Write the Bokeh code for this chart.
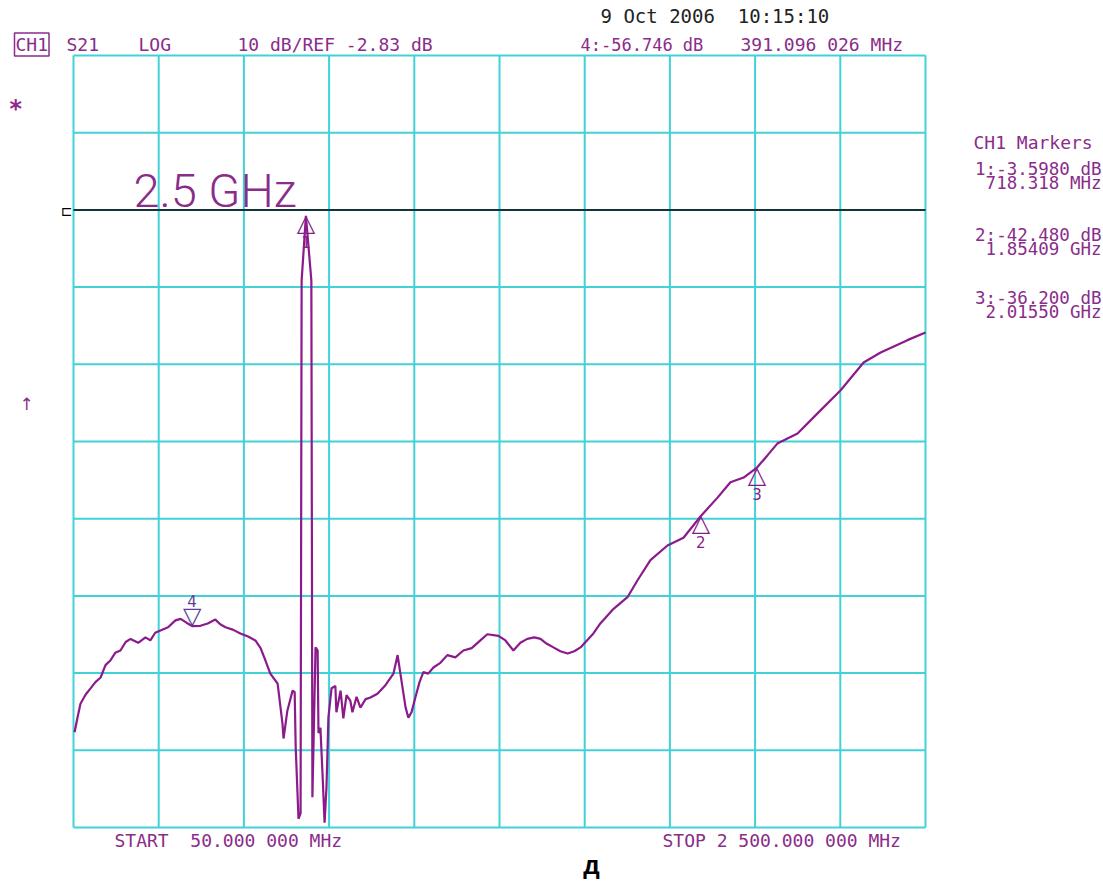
from bokeh.plotting import figure
from bokeh.models import Range1d, Label, ColumnDataSource
from bokeh.core.properties import value
from bokeh.embed import file_html
from bokeh.resources import INLINE

# ---- analyzer settings -------------------------------------------------
start_mhz = 50.0
stop_mhz = 2500.0
ref_db = -2.83
db_per_div = 10.0
ref_div_from_top = 2
n_div = 10
line_label = "2.5 GHz"

top_db = ref_db + ref_div_from_top * db_per_div
bottom_db = top_db - n_div * db_per_div

# ---- measured S21 trace ------------------------------------------------
freq_mhz = [
    53, 61, 70, 85, 99, 113, 128, 142, 156, 170, 185, 200, 214, 236, 257, 271,
    285, 300, 322, 343, 358, 375, 391.096, 415, 436, 458, 472, 487, 508, 530,
    552, 573, 588, 602, 616, 637, 651, 654, 665, 680, 686, 689, 697,
    703, 706, 718.318, 734, 737, 746, 752, 754.5, 760, 766, 772, 777.5, 783,
    792, 803, 806, 818, 826, 835, 846, 852, 864, 875, 890, 904, 924, 947, 970,
    982, 990, 1005, 1013, 1022, 1033, 1045, 1056, 1070, 1085, 1105, 1125, 1148,
    1171, 1195, 1220, 1240, 1272, 1292, 1315, 1335, 1355, 1375, 1393, 1410,
    1430, 1450, 1471, 1490, 1508, 1545, 1565, 1603, 1643, 1672, 1709, 1758,
    1804, 1854.09, 1902, 1939, 1977, 2015.5, 2046, 2074, 2132, 2198, 2256,
    2322, 2371, 2448, 2500,
]
s21_db = [
    -70.5, -68.7, -66.8, -65.6, -64.8, -64.0, -63.4, -61.8, -61.2, -60.2,
    -59.9, -58.8, -58.4, -58.9, -58.2, -58.6, -57.6, -57.3, -56.9, -56.0,
    -55.8, -56.3, -56.746, -56.7, -56.4, -55.9, -56.5, -56.9, -57.2, -57.7,
    -58.1, -58.6, -59.6, -61.2, -62.9, -64.2, -69.4, -71.3, -67.7, -65.1,
    -65.3, -72.5, -81.7,
    -81.0, -12.0, -3.598, -12.0, -78.9, -59.5, -59.9, -70.6, -69.9, -75.8,
    -82.2, -77.6, -68.6,
    -64.8, -64.5, -67.9, -65.1, -68.7, -65.7, -66.4, -67.9, -65.9, -67.3,
    -66.2, -66.0, -65.5, -64.4, -62.9,
    -60.5, -62.9, -67.3, -68.6, -67.9, -66.0, -64.0, -62.7, -62.9, -62.1,
    -61.5, -60.5, -60.8,
    -59.9, -59.6, -58.6, -57.8, -58.0, -58.6, -59.9, -58.9, -58.4, -58.2,
    -58.4, -59.0,
    -59.5, -60.0, -60.3, -60.0, -59.5, -57.7, -56.4, -54.5, -53.0, -50.8,
    -48.2, -46.3,
    -45.3, -42.48, -40.1, -38.1, -37.5, -36.2, -34.6, -33.1, -31.8, -28.8,
    -26.2, -22.6, -21.3, -19.7, -18.7,
]

# ---- markers -----------------------------------------------------------
marker_ids = ["1", "2", "3"]
marker_freq = [718.318, 1854.09, 2015.50]
marker_db = [-3.598, -42.480, -36.200]

active_id = "4"
active_freq = 391.096026
active_db = -56.746

# ---- colours / fonts ---------------------------------------------------
TRACE = "#8b1a8b"
TEXT = "#8a2c8a"
GRID = "#40d2d8"
ACTIVE = "#5d3d9c"
MONO = "DejaVu Sans Mono"
THIN = "Roboto Light, Lato Light, DejaVu Sans"
NB = "\u00a0"  # keeps runs of spaces in SVG text

# screen placement of the graticule inside the page
LEFT, TOP, FW, FH = 73, 55, 852, 772
W, H = 1103, 882


def fx(px):
    return start_mhz + (px - LEFT) / FW * (stop_mhz - start_mhz)


def fy(py):
    return bottom_db + (TOP + FH - py) / FH * (top_db - bottom_db)


# the frame spans the whole page so the annotation texts are not clipped
p = figure(
    width=W, height=H,
    frame_width=W, frame_height=H,
    min_border=0,
    x_range=Range1d(fx(0), fx(W)), y_range=Range1d(fy(H), fy(0)),
    x_axis_type=None, y_axis_type=None,
    output_backend="svg", toolbar_location=None,
    background_fill_color="white", border_fill_color="white",
)
p.outline_line_color = None
p.xgrid.visible = False
p.ygrid.visible = False

# graticule: 10 x 10 divisions
step = (stop_mhz - start_mhz) / n_div
x_ticks = [start_mhz + i * step for i in range(n_div + 1)]
y_ticks = [bottom_db + i * db_per_div for i in range(n_div + 1)]
k = n_div + 1
p.segment(x0=x_ticks, y0=[bottom_db] * k, x1=x_ticks, y1=[top_db] * k,
          line_color=GRID, line_width=2)
p.segment(x0=[start_mhz] * k, y0=y_ticks, x1=[stop_mhz] * k, y1=y_ticks,
          line_color=GRID, line_width=2)

# reference level line
p.line([start_mhz, stop_mhz], [ref_db, ref_db], line_color="black", line_width=1.5)

# trace
p.line(freq_mhz, s21_db, line_color=TRACE, line_width=2.2)

# marker triangles with their numbers underneath
msrc = ColumnDataSource(dict(f=marker_freq, db=marker_db,
                             tri=["△"] * len(marker_ids), n=marker_ids))
p.text(x="f", y="db", text="tri", source=msrc, text_align="center",
       text_baseline="alphabetic", y_offset=7, text_color=TRACE,
       text_font=value("DejaVu Sans"), text_font_size="24px")
p.text(x="f", y="db", text="n", source=msrc, text_align="center",
       text_baseline="top", y_offset=20, text_color=TRACE,
       text_font=value("DejaVu Sans"), text_font_size="15px")

# active marker: inverted triangle above the trace
p.text(x=[active_freq], y=[active_db], text=["▽"], text_align="center",
       text_baseline="alphabetic", y_offset=-10, text_color=ACTIVE,
       text_font=value("DejaVu Sans"), text_font_size="24px")
p.text(x=[active_freq], y=[active_db], text=[active_id], text_align="center",
       text_baseline="alphabetic", y_offset=-25, text_color=ACTIVE,
       text_font=value("DejaVu Sans"), text_font_size="15px")


def put(text, px, py, color=TEXT, size="18px", font=MONO, align="left",
        baseline="middle", style="normal", **kw):
    p.add_layout(Label(x=fx(px), y=fy(py), text=text.replace(" ", NB),
                       text_color=color, text_font=font, text_font_size=size,
                       text_align=align, text_baseline=baseline,
                       text_font_style=style, **kw))


def grouped(v, dec=6):
    whole, frac = f"{v:.{dec}f}".split(".")
    w = ""
    while len(whole) > 3:
        w = " " + whole[-3:] + w
        whole = whole[:-3]
    w = whole + w
    f = " ".join(frac[i:i + 3] for i in range(0, len(frac), 3))
    return w + "." + f


def db_txt(v):
    dec = 4 if abs(v) < 10 else 3
    return f"{v:.{dec}f} dB"


def freq_txt(v):
    return f"{v:.3f} MHz" if v < 1000 else f"{v / 1000:.5f} GHz"


# header
put("9 Oct 2006  10:15:10", 600, 15, color="#222222", size="19px")
put("CH1", 14, 44, border_line_color=TEXT, border_line_width=1.5, padding=1)
put("S21", 66, 44)
put("LOG", 138, 44)
put(f"{db_per_div:.0f} dB/REF {ref_db:.2f} dB", 237, 44)
put(f"{active_id}:{active_db:.3f} dB", 580, 44, size="17px")
put(f"{grouped(active_freq)} MHz", 740, 44)

# left-side symbols
put("*", 8, 108, size="24px", style="bold")
put("↑", 19, 403, size="17px", font="DejaVu Sans")
put("⊏", 60, 210, color="black", size="14px", font="DejaVu Sans")

# line label
put(line_label, 133, 190, size="47px", font=THIN)

# marker table
put("CH1 Markers", 973, 142)
rows_y = [(168, 182), (234, 248), (297, 311)]
for mid, f, db, (y1, y2) in zip(marker_ids, marker_freq, marker_db, rows_y):
    put(f"{mid}:{db_txt(db)}", 1101, y1, size="17.5px", align="right")
    put(freq_txt(f), 1101, y2, size="17.5px", align="right")

# sweep limits
put(f"START  {grouped(start_mhz)} MHz", 114, 840)
put(f"STOP {grouped(stop_mhz)} MHz", 662, 840)

# figure letter
put("д", 591, 864, color="black", size="26px", font="Liberation Sans",
    align="center", style="bold")

open("out.html", "w").write(file_html(p, INLINE))
